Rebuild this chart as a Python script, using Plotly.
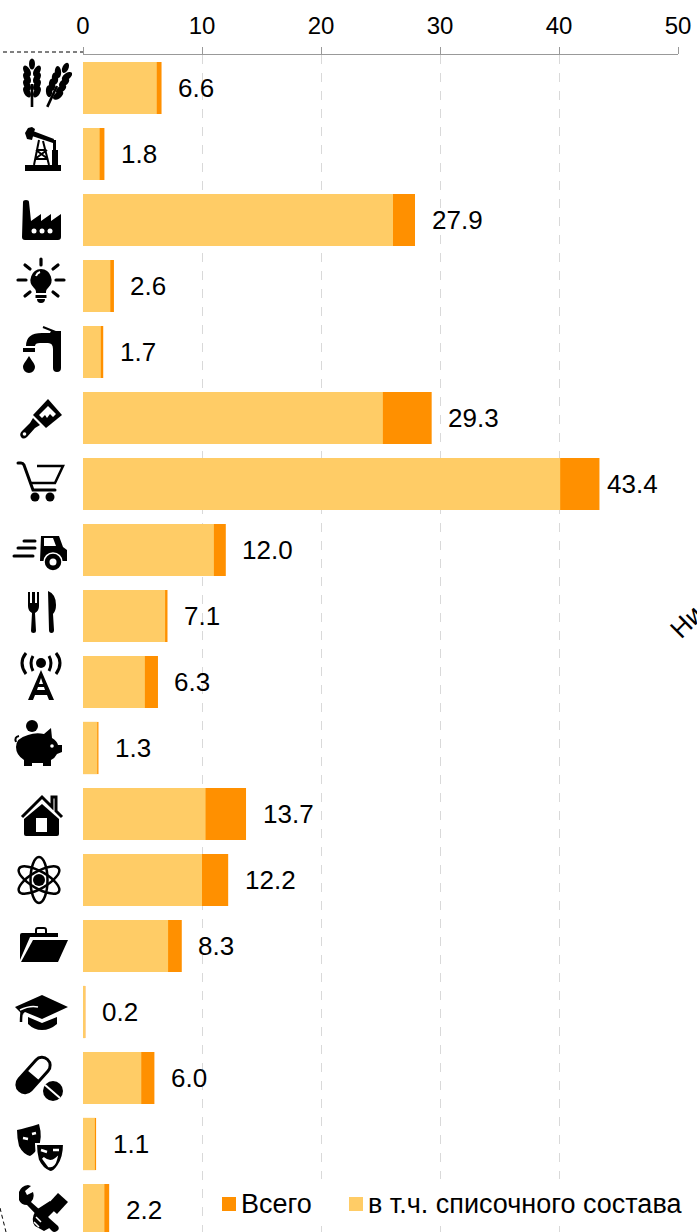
import base64
import plotly.graph_objects as go

# Values
total_values = [6.6, 1.8, 27.9, 2.6, 1.7, 29.3, 43.4, 12.0, 7.1, 6.3, 1.3, 13.7, 12.2, 8.3, 0.2, 6.0, 1.1, 2.2]
staff_values = [6.2, 1.4, 26.05, 2.3, 1.5, 25.2, 40.1, 11.0, 6.9, 5.2, 1.2, 10.3, 10.0, 7.15, 0.1, 4.9, 1.0, 1.8]
x_ticks = [0, 10, 20, 30, 40, 50]
legend_labels = ["Всего", "в т.ч. списочного состава"]

used_color = ["#FF9000", "#FFCC66"]
font_family = "Liberation Sans, Arial, sans-serif"

WIDTH, HEIGHT = 697, 1232
LEFT, RIGHT, TOP = 83, 19, 55
ROW_PX = 66
PLOT_W = WIDTH - LEFT - RIGHT
PLOT_H = HEIGHT - TOP


def stalk(x, y, angle):
    # one ear of wheat, pairs of grains along a stem
    grains = '<ellipse cx="0" cy="-20" rx="3" ry="5.500"/>'
    for dy in [-13, -6, 1, 8]:
        grains += f'<ellipse cx="-5" cy="{dy}" rx="3.200" ry="6" transform="rotate(-28 -5 {dy})"/>'
        grains += f'<ellipse cx="5" cy="{dy}" rx="3.200" ry="6" transform="rotate(28 5 {dy})"/>'
    return f'<g transform="translate({x} {y}) rotate({angle})"><rect x="-1.300" y="0" width="2.600" height="23"/>{grains}</g>'


# Icons for the rows, drawn in a 60x60 box centred on the row
icons = [
    stalk(20, 26, 0) + stalk(45, 28, 25),
    '<path d="M13 41h36v6H13z"/><path d="M16 4l4-1 3 2-3 11-5-1-2-6zM21 7l21 8-1 4-21-7z"/>'
    '<path d="M40 26h6v15h-6z"/><path d="M27 16l-5 25M31 17l6 24M25 26h9M23 35h13M24 26l12 9M35 26l-12 9" '
    'stroke="#000" stroke-width="2" fill="none"/><path d="M41 16h3v10h-3z"/>',
    '<path d="M11 12q0-2 3-2t3 2l2 19 10-7v7l10-7v7l10-7v23q0 3-3 3H13q-3 0-3-3z"/>'
    '<circle cx="22" cy="41" r="2.500" fill="#fff"/><circle cx="30" cy="41" r="2.500" fill="#fff"/>'
    '<circle cx="38" cy="41" r="2.500" fill="#fff"/>',
    '<path d="M29 13a11 11 0 0 1 7 19c-2 2-2 3-2 5h-10c0-2 0-3-2-5a11 11 0 0 1 7-19z"/>'
    '<path d="M23.500 39h11v3h-11zM25 43h8q0 4-4 4t-4-4z"/>'
    '<path d="M24 20q1-3 4-4" stroke="#fff" stroke-width="2" fill="none"/>'
    '<path d="M29 3v6M13 9l5 4M46 9l-5 4M6 24h8M44 24h8M13 40l5-4M46 40l-5-4" stroke="#000" stroke-width="3.200" '
    'stroke-linecap="round" fill="none"/>',
    '<path d="M14 24Q14 11 30 11H38l1-2h10v37a4 4 0 0 1-8 0V27Q41 21 36 21H28Q23 21 23 24z"/>'
    '<path d="M11 26h12v4H11z"/><path d="M17 34c3 5 6 8 6 11a6 6 0 0 1-12 0c0-3 3-6 6-11z"/>'
    '<path d="M31 5l15 6" stroke="#000" stroke-width="2" fill="none"/>',
    '<path d="M36 11l14 16-16 13-13-13z"/>'
    '<path d="M36 18l-9 9 3 3 3-3 2 3 3-4 3 3 3-3z" fill="#fff"/>'
    '<path d="M21 30l7 7-5 3-8 9q-4 3-6 0t1-6l8-8z"/><circle cx="12.500" cy="46" r="1.800" fill="#fff"/>',
    '<path d="M6 9h3q2 0 3 2l9 25h22" stroke="#000" stroke-width="3" stroke-linecap="round" fill="none"/>'
    '<path d="M25 12h26l-8 17H18" stroke="#000" stroke-width="2.500" fill="none"/>'
    '<circle cx="23" cy="43" r="4.500"/><circle cx="38" cy="43" r="4.500"/>',
    '<path d="M29 16h18l4 11 4 3v11H28z"/><path d="M32 18h9l3 8H32z" fill="#fff"/>'
    '<circle cx="41" cy="42" r="9" fill="#000" stroke="#fff" stroke-width="1.500"/><circle cx="41" cy="42" r="3.500" fill="#fff"/>'
    '<path d="M12 21h11M6 28h17M2 36h19" stroke="#000" stroke-width="3" stroke-linecap="round" fill="none"/>',
    '<path d="M16 6h2v11h2V6h3v11h2V6h2v14q0 5-4 7l1 18q0 2-2.500 2T19 45l1-18q-4-2-4-7z"/>'
    '<path d="M36 5q8 3 8 14 0 6-3 9l1 16q0 3-2.500 3T37 44z"/>',
    '<path d="M29 18l13 30h-5l-2-5H23l-2 5h-5l13-30zM27 32h4l-2-6zM25 38h8l-1-3h-6z" fill-rule="evenodd"/>'
    '<circle cx="29" cy="11" r="5"/>'
    '<path d="M21 4q-4 7 0 15M14 1q-8 10 0 21M37 4q4 7 0 15M44 1q8 10 0 21" stroke="#000" stroke-width="3" fill="none"/>',
    '<circle cx="20" cy="8" r="6"/>'
    '<path d="M16 17q8-3 16-1l7-6 1 10q5 3 6 7h4v7l-5 2q-2 4-6 6v6h-8v-3H20v3h-8v-6q-8-5-8-13 0-9 12-12z"/>'
    '<path d="M4 24q-2-5 3-6" stroke="#000" stroke-width="2" fill="none"/>'
    '<circle cx="40" cy="28" r="1.800" fill="#fff"/>',
    '<path d="M10 33L30 13l10 10V13h4v14l6 6" stroke="#000" stroke-width="3" fill="none"/>'
    '<path d="M30 20l17 15v15q0 2-2 2H14q-2 0-2-2V35z"/><path d="M24 34h11v14H24z" fill="#fff"/>',
    '<ellipse cx="27" cy="30" rx="23" ry="8.500" fill="none" stroke="#000" stroke-width="2.500" transform="rotate(90 27 30)"/>'
    '<ellipse cx="27" cy="30" rx="23" ry="8.500" fill="none" stroke="#000" stroke-width="2.500" transform="rotate(30 27 30)"/>'
    '<ellipse cx="27" cy="30" rx="23" ry="8.500" fill="none" stroke="#000" stroke-width="2.500" transform="rotate(-30 27 30)"/>'
    '<circle cx="27" cy="30" r="6"/>',
    '<path d="M8 19q0-2 2-2h36v4H18L8 44z"/><path d="M21 24h35L46 46H9z"/>'
    '<path d="M24 17v-3q0-2 2-2h6q2 0 2 2v3" stroke="#000" stroke-width="2" fill="none"/>',
    '<path d="M3 25l27-12 26 12-26 12-17-7q-2 1-2 3" /><path d="M16 35l14 6 15-6v7q-7 6-15 6t-14-6z"/>'
    '<path d="M10 28q-1 6-1 12" stroke="#000" stroke-width="2.500" fill="none"/>'
    '<path d="M8 28q10-5 18-3" stroke="#fff" stroke-width="1.500" fill="none"/>',
    '<path d="M7 31L24 12a8 8 0 0 1 12 11L19 42a8 8 0 0 1-12-11z" fill="#fff" stroke="#000" stroke-width="3"/>'
    '<path d="M7 31l8-9 13 11-9 9a8 8 0 0 1-12-11z"/>'
    '<circle cx="41" cy="43" r="10"/><path d="M33 37l15 13" stroke="#fff" stroke-width="2"/>',
    '<path d="M5 16q9-2 22-6 4 14-1 24-4 6-8 8-7-2-11-10-2-8-2-16z"/>'
    '<path d="M24 30q12 0 28 0 0 14-6 22-4 6-8 6-8-3-12-12-2-8-2-16z" stroke="#fff" stroke-width="2"/>'
    '<path d="M29 36l6 2M41 36l6 0M31 44q7 6 13 1q-2 8-7 7z" stroke="#fff" stroke-width="2.500" fill="#fff"/>'
    '<path d="M11 24l5 1M20 20l4-1" stroke="#fff" stroke-width="2.500"/>',
    '<path d="M7 12q2-6 9-7l3 1-6 5 2 4 6-3q2 6-2 10l27 24q2 3-1 5t-5 0L15 25q-6 0-8-5z"/>'
    '<path d="M46 13l10 9-11 12-10-9z"/><path d="M24 30l14-9 7 7-9 9 5 9-9 5-9-5q-5-6 1-16z"/>'
    '<path d="M24 37l5 5M22 42l5 5" stroke="#fff" stroke-width="1.500"/>',
]


def icon_uri(body):
    svg = f'<svg xmlns="http://www.w3.org/2000/svg" width="60" height="60" viewBox="0 0 60 60">{body}</svg>'
    return "data:image/svg+xml;base64," + base64.b64encode(svg.encode("utf-8")).decode("ascii")


def px_x(px):
    return (px - LEFT) / PLOT_W


def px_y(px):
    return 1 - (px - TOP) / PLOT_H


rows = list(range(len(total_values)))

fig = go.Figure()
fig.add_trace(go.Bar(y=rows, x=total_values, orientation="h", name=legend_labels[0],
                     marker=dict(color=used_color[0], line=dict(width=0)), width=0.79))
fig.add_trace(go.Bar(y=rows, x=staff_values, orientation="h", name=legend_labels[1],
                     marker=dict(color=used_color[1], line=dict(width=0)), width=0.79))

# Value labels, the longest bar keeps its label closer
for row, value in zip(rows, total_values):
    fig.add_annotation(x=value, y=row, text=f"{value:.1f}", showarrow=False, xanchor="left", yanchor="middle",
                       xshift=6 if value > 40 else 14.5,
                       font=dict(size=26, color="#000", family=font_family))

# Row icons
for row, body in zip(rows, icons):
    fig.add_layout_image(source=icon_uri(body), xref="paper", yref="y", x=px_x(42), y=row,
                         sizex=60 / PLOT_W, sizey=60 / ROW_PX, xanchor="center", yanchor="middle",
                         sizing="contain", layer="above")

# Legend box
shapes = [
    dict(type="rect", xref="paper", yref="paper", x0=px_x(210), x1=px_x(697), y0=px_y(1226), y1=px_y(1179),
         fillcolor="#fff", line_width=0, layer="above"),
    dict(type="rect", xref="paper", yref="paper", x0=px_x(222), x1=px_x(236), y0=px_y(1211), y1=px_y(1197),
         fillcolor=used_color[0], line_width=0, layer="above"),
    dict(type="rect", xref="paper", yref="paper", x0=px_x(349), x1=px_x(363), y0=px_y(1211), y1=px_y(1197),
         fillcolor=used_color[1], line_width=0, layer="above"),
    # Dashed callout lines of the cut-off outer chart
    dict(type="line", xref="paper", yref="paper", x0=px_x(3), x1=px_x(83), y0=px_y(52), y1=px_y(52),
         line=dict(color="#000", width=1, dash="4px,3px"), layer="above"),
    dict(type="line", xref="paper", yref="paper", x0=px_x(0), x1=px_x(6), y0=px_y(1208), y1=px_y(1232),
         line=dict(color="#000", width=1, dash="4px,3px"), layer="above"),
]
fig.update_layout(shapes=shapes)

fig.add_annotation(xref="paper", yref="paper", x=px_x(239), y=px_y(1204), text=legend_labels[0], showarrow=False,
                   xanchor="left", yanchor="middle", font=dict(size=27, color="#000", family=font_family))
fig.add_annotation(xref="paper", yref="paper", x=px_x(365.5), y=px_y(1204), text=legend_labels[1], showarrow=False,
                   xanchor="left", yanchor="middle", font=dict(size=27, color="#000", family=font_family))

# Cut-off rotated labels at the right edge
fig.add_annotation(xref="paper", yref="paper", x=px_x(686), y=px_y(622), text="Ни", showarrow=False, textangle=-45,
                   xanchor="center", yanchor="middle", font=dict(size=26, color="#000", family=font_family))
fig.add_annotation(xref="paper", yref="paper", x=px_x(706), y=px_y(1085), text="А", showarrow=False, textangle=-45,
                   xanchor="center", yanchor="middle", font=dict(size=26, color="#000", family=font_family))

fig.update_layout(
    width=WIDTH,
    height=HEIGHT,
    margin=dict(l=LEFT, r=RIGHT, t=TOP, b=0, pad=0),
    barmode="overlay",
    showlegend=False,
    paper_bgcolor="#fff",
    plot_bgcolor="#fff",
    font=dict(family=font_family, color="#000"),
    xaxis=dict(
        side="top", range=[0, 50], tickvals=x_ticks, ticks="outside", ticklen=7, tickcolor="#999",
        showline=True, linecolor="#999", linewidth=1,
        showgrid=True, gridcolor="#d9d9d9", griddash="dash", gridwidth=1, zeroline=False,
        tickfont=dict(size=24, color="#000", family=font_family), ticklabelstandoff=3,
    ),
    yaxis=dict(range=[(HEIGHT - TOP) / ROW_PX - 0.5, -0.5], showticklabels=False, showgrid=False,
               zeroline=False, showline=False, ticks=""),
)

fig.write_html("out.html", config={"displayModeBar": False},
               post_script="document.body.style.margin='0';document.body.style.overflow='hidden';")
